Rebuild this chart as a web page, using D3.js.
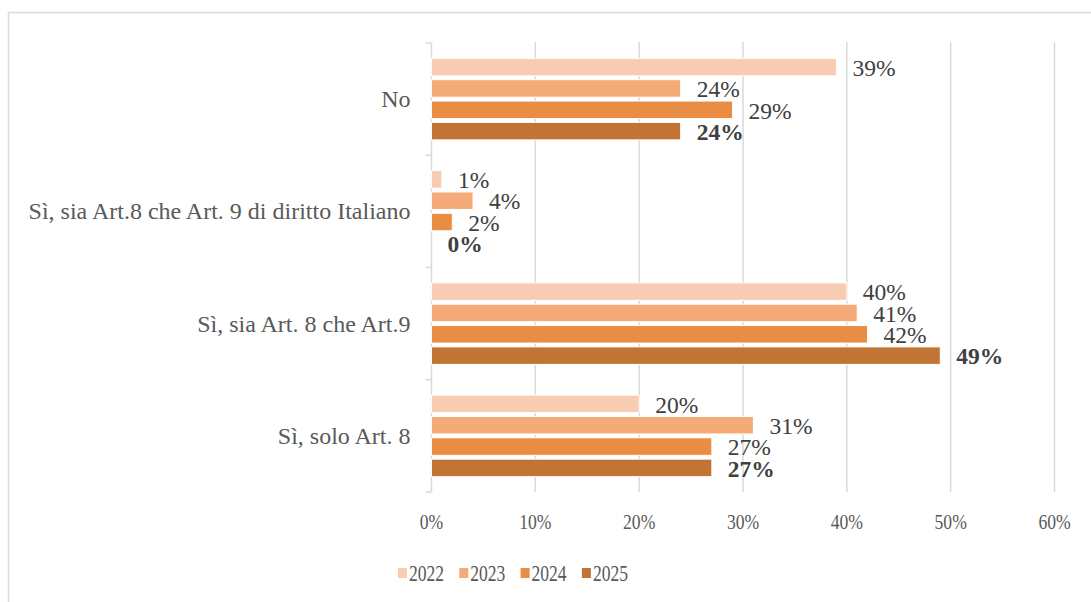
<!DOCTYPE html>
<html>
<head>
<meta charset="utf-8">
<script src="https://cdn.jsdelivr.net/npm/d3@7"></script>
<style>
  html, body { margin: 0; padding: 0; background: #fff; }
  svg { display: block; }
  svg text { font-family: "Liberation Serif", "Times New Roman", serif; }
</style>
</head>
<body>
<svg id="chart" width="1091" height="602"></svg>
<script>
// Categories (top to bottom) and yearly shares, in percent
const categories = [
  "No",
  "Sì, sia Art.8 che Art. 9 di diritto Italiano",
  "Sì, sia Art. 8 che Art.9",
  "Sì, solo Art. 8"
];
const years = ["2022", "2023", "2024", "2025"];
const values2022 = [39, 1, 40, 20];
const values2023 = [24, 4, 41, 31];
const values2024 = [29, 2, 42, 27];
const values2025 = [24, 0, 49, 27];
const xTicks = [0, 10, 20, 30, 40, 50, 60];
const colors = ["#F8CBB3", "#F5AB78", "#E88D43", "#C27434"];

const series = [values2022, values2023, values2024, values2025];
const rows = categories.map((c, i) => ({
  category: c,
  bars: years.map((y, k) => ({ year: y, value: series[k][i], k }))
}));

const FONT = "'Liberation Serif', 'Times New Roman', serif";
const svg = d3.select("#chart");

// Outer frame
svg.append("rect")
  .attr("x", 8.5).attr("y", 12.5)
  .attr("width", 1100).attr("height", 610)
  .attr("fill", "none").attr("stroke", "#d9d9d9").attr("stroke-width", 1.5);

const plot = { left: 431.5, right: 1054.5, top: 43, bottom: 492 };

const x = d3.scaleLinear().domain([0, 60]).range([plot.left, plot.right]);
const y = d3.scaleBand().domain(categories).range([plot.top, plot.bottom]).padding(0);
const yInner = d3.scaleBand().domain(years)
  .range([0, y.bandwidth()]).paddingInner(0.18).paddingOuter(0.72);

// Vertical gridlines
svg.append("g").selectAll("line")
  .data(xTicks.filter(t => t > 0))
  .join("line")
  .attr("x1", d => x(d)).attr("x2", d => x(d))
  .attr("y1", plot.top - 1).attr("y2", plot.bottom)
  .attr("stroke", "#d9d9d9").attr("stroke-width", 1.5);

// Category axis with outward ticks at band boundaries
const axisG = svg.append("g");
axisG.append("line")
  .attr("x1", x(0)).attr("x2", x(0))
  .attr("y1", plot.top).attr("y2", plot.bottom)
  .attr("stroke", "#d9d9d9").attr("stroke-width", 1.5);
const boundaries = categories.map(c => y(c)).concat([plot.bottom]);
axisG.selectAll("line.tick")
  .data(boundaries)
  .join("line").attr("class", "tick")
  .attr("x1", x(0) - 6).attr("x2", x(0))
  .attr("y1", d => d).attr("y2", d => d)
  .attr("stroke", "#d9d9d9").attr("stroke-width", 1.5);

// Category labels
svg.append("g").selectAll("text")
  .data(categories)
  .join("text")
  .attr("x", x(0) - 21)
  .attr("y", d => y(d) + y.bandwidth() / 2)
  .attr("dy", "0.33em")
  .attr("text-anchor", "end")
  .attr("font-family", FONT)
  .attr("font-size", 24)
  .attr("fill", "#595959")
  .text(d => d);

// Bars and value labels
const groups = svg.append("g").selectAll("g")
  .data(rows)
  .join("g")
  .attr("transform", d => `translate(0,${y(d.category)})`);

groups.selectAll("rect")
  .data(d => d.bars)
  .join("rect")
  .attr("x", x(0))
  .attr("y", d => yInner(d.year))
  .attr("width", d => x(d.value) - x(0))
  .attr("height", yInner.bandwidth())
  .attr("fill", d => colors[d.k])
  .attr("stroke", "#fff").attr("stroke-width", 1);

groups.selectAll("text")
  .data(d => d.bars)
  .join("text")
  .attr("x", d => x(d.value) + 16)
  .attr("y", d => yInner(d.year) + yInner.bandwidth() / 2 + 1)
  .attr("dy", "0.33em")
  .attr("font-family", FONT)
  .attr("font-size", 23.5)
  .attr("font-weight", d => d.year === "2025" ? "bold" : "normal")
  .attr("fill", "#404040")
  .text(d => d.value + "%");

// Value axis labels (narrow set)
svg.append("g").selectAll("g")
  .data(xTicks)
  .join("g")
  .attr("transform", d => `translate(${x(d)},529) scale(0.8,1)`)
  .append("text")
  .attr("text-anchor", "middle")
  .attr("font-family", FONT)
  .attr("font-size", 22)
  .attr("fill", "#595959")
  .text(d => d + "%");

// Legend
const legend = svg.append("g").selectAll("g")
  .data(years)
  .join("g")
  .attr("transform", (d, i) => `translate(${398 + i * 61.3},0)`);
legend.append("rect")
  .attr("x", 0).attr("y", 568)
  .attr("width", 9).attr("height", 10)
  .attr("fill", (d, i) => colors[i]);
legend.append("g")
  .attr("transform", "translate(11,581) scale(0.73,1)")
  .append("text")
  .attr("font-family", FONT)
  .attr("font-size", 24)
  .attr("fill", "#595959")
  .text(d => d);
</script>
</body>
</html>
